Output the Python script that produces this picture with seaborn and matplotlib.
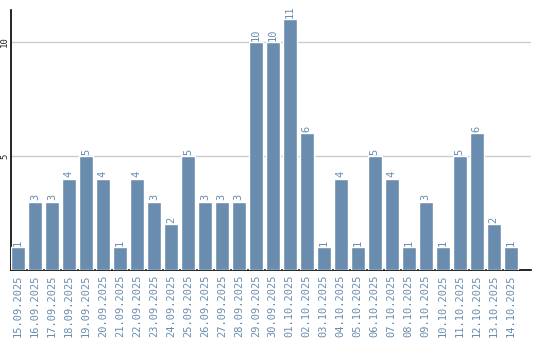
import matplotlib
matplotlib.use("Agg")
import matplotlib.pyplot as plt
import seaborn as sns
import pandas as pd

dates = ["15.09.2025","16.09.2025","17.09.2025","18.09.2025","19.09.2025","20.09.2025",
         "21.09.2025","22.09.2025","23.09.2025","24.09.2025","25.09.2025","26.09.2025",
         "27.09.2025","28.09.2025","29.09.2025","30.09.2025","01.10.2025","02.10.2025",
         "03.10.2025","04.10.2025","05.10.2025","06.10.2025","07.10.2025","08.10.2025",
         "09.10.2025","10.10.2025","11.10.2025","12.10.2025","13.10.2025","14.10.2025"]
counts = [1,3,3,4,5,4,1,4,3,2,5,3,3,3,10,10,11,6,1,4,1,5,4,1,3,1,5,6,2,1]
yticks = [5, 10]

BAR = "#6a8cae"
sns.set_style("white")
plt.rcParams['font.family'] = ['DejaVu Sans Mono']

df = pd.DataFrame({"date": dates, "count": counts})
fig = plt.figure(figsize=(5.4, 3.4), dpi=100)
ax = fig.add_axes([11/540, 70/340, 520/540, 260/340])
sns.barplot(data=df, x="date", y="count", color=BAR, saturation=1, width=0.82, ax=ax, zorder=3)
for c in ax.containers:
    ax.bar_label(c, labels=[str(v) for v in counts], rotation=90, color=BAR, fontsize=7.5, padding=1)
ax.set_xlim(-0.41, 30.2)
ax.set_ylim(0, 11.4)
ax.set_yticks(yticks)
ax.set_yticklabels([str(v) for v in yticks], rotation=90, va="center", fontsize=6.5)
ax.tick_params(axis="y", length=0, pad=1.5)
ax.tick_params(axis="x", length=0, pad=3, labelrotation=90, labelcolor=BAR, labelsize=7.5)
ax.yaxis.grid(True, color="#cccccc", linewidth=1, zorder=0)
ax.set_xlabel("")
ax.set_ylabel("")
for s in ["top", "right"]:
    ax.spines[s].set_visible(False)
for s in ["left", "bottom"]:
    ax.spines[s].set_color("black")
    ax.spines[s].set_linewidth(1.2)
fig.savefig("out.png", dpi=100)
